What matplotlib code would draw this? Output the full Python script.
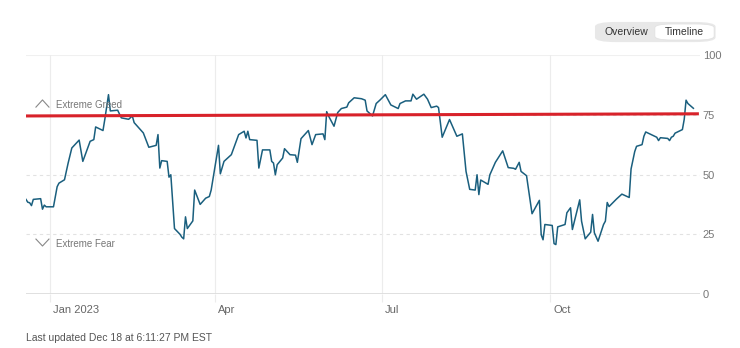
import matplotlib
matplotlib.use("Agg")
import matplotlib.pyplot as plt
import matplotlib.transforms as mtrans
from matplotlib.patches import FancyBboxPatch
import pandas as pd

plt.rcParams["font.family"] = ["Liberation Sans Narrow", "Liberation Sans", "DejaVu Sans"]

# Fear & Greed index, daily closes
fechas = [
    "2022-12-19", "2022-12-20", "2022-12-21", "2022-12-22", "2022-12-23",
    "2022-12-27", "2022-12-28", "2022-12-29", "2022-12-30", "2023-01-03",
    "2023-01-05", "2023-01-06", "2023-01-09", "2023-01-11", "2023-01-13",
    "2023-01-17", "2023-01-19", "2023-01-23", "2023-01-25", "2023-01-26",
    "2023-01-30", "2023-01-31", "2023-02-02", "2023-02-03", "2023-02-07",
    "2023-02-09", "2023-02-13", "2023-02-15", "2023-02-16", "2023-02-21",
    "2023-02-24", "2023-02-28", "2023-03-01", "2023-03-02", "2023-03-03",
    "2023-03-06", "2023-03-07", "2023-03-08", "2023-03-10", "2023-03-13",
    "2023-03-14", "2023-03-15", "2023-03-16", "2023-03-17", "2023-03-20",
    "2023-03-21", "2023-03-24", "2023-03-27", "2023-03-29", "2023-03-30",
    "2023-04-03", "2023-04-04", "2023-04-06", "2023-04-10", "2023-04-14",
    "2023-04-17", "2023-04-18", "2023-04-19", "2023-04-20", "2023-04-24",
    "2023-04-25", "2023-04-27", "2023-05-01", "2023-05-02", "2023-05-03",
    "2023-05-04", "2023-05-05", "2023-05-08", "2023-05-09", "2023-05-12",
    "2023-05-15", "2023-05-16", "2023-05-18", "2023-05-22", "2023-05-24",
    "2023-05-26", "2023-05-30", "2023-05-31", "2023-06-01", "2023-06-02",
    "2023-06-05", "2023-06-07", "2023-06-09", "2023-06-12", "2023-06-13",
    "2023-06-16", "2023-06-20", "2023-06-22", "2023-06-23", "2023-06-26",
    "2023-06-28", "2023-06-30", "2023-07-03", "2023-07-06", "2023-07-10",
    "2023-07-11", "2023-07-14", "2023-07-17", "2023-07-18", "2023-07-20",
    "2023-07-24", "2023-07-26", "2023-07-28", "2023-07-31", "2023-08-01",
    "2023-08-03", "2023-08-07", "2023-08-11", "2023-08-14", "2023-08-16",
    "2023-08-18", "2023-08-21", "2023-08-22", "2023-08-23", "2023-08-24",
    "2023-08-28", "2023-08-29", "2023-09-01", "2023-09-05", "2023-09-08",
    "2023-09-11", "2023-09-12", "2023-09-14", "2023-09-15", "2023-09-18",
    "2023-09-21", "2023-09-25", "2023-09-26", "2023-09-27", "2023-09-28",
    "2023-10-02", "2023-10-03", "2023-10-04", "2023-10-05", "2023-10-09",
    "2023-10-10", "2023-10-12", "2023-10-13", "2023-10-17", "2023-10-18",
    "2023-10-20", "2023-10-23", "2023-10-24", "2023-10-25", "2023-10-27",
    "2023-10-30", "2023-10-31", "2023-11-01", "2023-11-02", "2023-11-06",
    "2023-11-09", "2023-11-13", "2023-11-14", "2023-11-16", "2023-11-17",
    "2023-11-20", "2023-11-21", "2023-11-22", "2023-11-28", "2023-11-29",
    "2023-11-30", "2023-12-04", "2023-12-05", "2023-12-06", "2023-12-07",
    "2023-12-08", "2023-12-12", "2023-12-13", "2023-12-14", "2023-12-15",
    "2023-12-18",
]
indice = [
    39.6, 38.4, 38.2, 37.0, 39.6,
    39.9, 35.5, 37.2, 36.5, 36.5,
    44.9, 46.4, 47.8, 54.8, 61.1,
    64.4, 55.5, 63.9, 64.6, 69.9,
    68.4, 73.1, 83.4, 76.6, 76.9,
    73.7, 73.1, 74.5, 71.7, 67.4,
    61.4, 62.2, 66.7, 52.7, 55.8,
    55.5, 48.9, 49.9, 27.4, 25.0,
    23.8, 23.1, 32.3, 27.4, 30.6,
    43.5, 37.5, 40.1, 40.8, 43.5,
    62.2, 50.3, 55.5, 58.3, 66.7,
    68.1, 65.3, 68.1, 64.6, 64.3,
    52.7, 60.3, 60.3, 55.5, 54.8,
    49.9, 54.1, 56.9, 60.8, 58.3,
    58.1, 55.1, 65.0, 68.4, 62.5,
    66.7, 67.0, 64.6, 76.3, 74.5,
    70.2, 75.9, 77.6, 78.2, 80.0,
    82.1, 81.7, 81.1, 76.6, 74.5,
    79.7, 81.1, 83.4, 79.1, 77.6,
    79.7, 80.8, 80.8, 83.6, 81.5,
    83.6, 81.5, 78.0, 78.6, 78.0,
    65.6, 73.0, 66.0, 67.0, 51.3,
    43.8, 43.5, 49.9, 41.6, 47.7,
    45.9, 49.9, 55.1, 59.9, 52.9,
    52.6, 52.2, 55.1, 51.3, 49.5,
    33.6, 39.2, 24.8, 22.7, 29.1,
    28.7, 21.1, 20.7, 28.1, 29.1,
    34.0, 36.1, 27.0, 39.4, 30.5,
    23.1, 25.9, 33.3, 25.6, 22.1,
    29.1, 30.5, 38.3, 36.6, 39.7,
    41.8, 40.4, 52.3, 59.6, 61.8,
    62.5, 66.0, 67.8, 65.6, 64.2,
    65.4, 65.1, 64.2, 65.6, 66.0,
    67.3, 68.8, 73.1, 81.1, 79.7,
    77.7,
]

# red reference line (start / end level)
nivel_fechas = ["2022-12-19", "2023-12-21"]
nivel_valores = [74.5, 75.4]

meses = ["2023-01-01", "2023-04-01", "2023-07-01", "2023-10-01"]
meses_txt = ["Jan 2023", "Apr", "Jul", "Oct"]
y_ticks = [0, 25, 50, 75, 100]

x = pd.to_datetime(fechas)
xm = pd.to_datetime(meses)

fig = plt.figure(figsize=(7.4, 3.48), dpi=100)
ax = fig.add_axes([0.0351, 0.155, 0.9108, 0.687])

gris_grid = "#ececec"
for v in y_ticks[1:4]:
    ax.axhline(v, color="#e2e2e2", lw=0.8, ls=(0, (3, 3)), zorder=0)
ax.axhline(100, color="#f0f0f0", lw=0.8, zorder=0)
ax.axhline(0, color="#dddddd", lw=2, zorder=1)
for m in xm:
    ax.axvline(m, color=gris_grid, lw=0.8, zorder=0)

ax.plot(x, indice, color="#1a5f7e", lw=1.1, zorder=3)
ax.plot(pd.to_datetime(nivel_fechas), nivel_valores, color="#d8222a",
        lw=2.2, solid_capstyle="butt", zorder=4)

ax.set_xlim(pd.Timestamp("2022-12-19"), pd.Timestamp("2023-12-21 14:00"))
ax.set_ylim(0, 100)

# month labels sit just right of their gridline
ax.set_xticks(xm)
ax.set_xticklabels(meses_txt, ha="left")
ax.tick_params(axis="x", length=6, color=gris_grid, width=0.8,
               labelsize=8, labelcolor="#666666", pad=2)
desp = mtrans.ScaledTranslation(3 / 100, 0, fig.dpi_scale_trans)
for lbl in ax.get_xticklabels():
    lbl.set_transform(lbl.get_transform() + desp)

ax.yaxis.tick_right()
ax.set_yticks(y_ticks)
ax.tick_params(axis="y", length=0, labelsize=8, labelcolor="#777777", pad=2)

for s in ax.spines.values():
    s.set_visible(False)

# zone markers
gris_txt = "#777777"
ax.plot([0.0148, 0.0245, 0.0341], [0.782, 0.812, 0.782], transform=ax.transAxes,
        color="#888888", lw=0.8, clip_on=False)
ax.text(0.0445, 0.791, "Extreme Greed", transform=ax.transAxes, fontsize=7,
        color=gris_txt, va="center", ha="left")
ax.plot([0.0148, 0.0245, 0.0341], [0.230, 0.201, 0.230], transform=ax.transAxes,
        color="#888888", lw=0.8, clip_on=False)
ax.text(0.0445, 0.209, "Extreme Fear", transform=ax.transAxes, fontsize=7,
        color=gris_txt, va="center", ha="left")

# Overview / Timeline toggle
fondo = FancyBboxPatch((0.804, 0.879), 0.163, 0.058, transform=fig.transFigure,
                       boxstyle="round,pad=0,rounding_size=0.029",
                       fc="#e8e8e8", ec="none", mutation_aspect=348 / 740)
activo = FancyBboxPatch((0.885, 0.885), 0.080, 0.046, transform=fig.transFigure,
                        boxstyle="round,pad=0,rounding_size=0.023",
                        fc="white", ec="#e0e0e0", lw=0.5, mutation_aspect=348 / 740)
fig.patches.extend([fondo, activo])
fig.text(0.846, 0.908, "Overview", fontsize=7.5, color="#333333",
         ha="center", va="center")
fig.text(0.925, 0.908, "Timeline", fontsize=7.5, color="#333333",
         ha="center", va="center")

fig.text(0.035, 0.029, "Last updated Dec 18 at 6:11:27 PM EST", fontsize=7.5,
         color="#555555", ha="left", va="center")

fig.savefig("out.png", dpi=100, facecolor="white")
